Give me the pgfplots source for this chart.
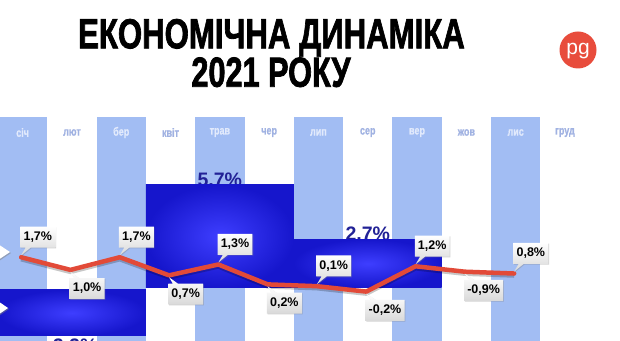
\documentclass[border=0pt]{standalone}
\usepackage{fontspec}
\setmainfont{Liberation Sans}
\newfontfamily\titlefont{Liberation Sans}[BoldFeatures={FakeBold=2}]
\newfontfamily\monthfont{Liberation Sans}[BoldFeatures={FakeBold=1}]
\usepackage{pgfplots}
\pgfplotsset{compat=1.18}
\usetikzlibrary{shapes.callouts,shadows}
\definecolor{stripe}{RGB}{162,189,243}
\definecolor{qin}{RGB}{62,62,255}
\definecolor{qout}{RGB}{22,22,204}
\definecolor{redl}{RGB}{226,74,56}
\definecolor{navy}{RGB}{34,34,150}
\definecolor{mlight}{RGB}{226,234,252}
\definecolor{mdark}{RGB}{160,178,226}
\definecolor{logo}{RGB}{232,76,60}
\newcommand\ml[1]{\scalebox{0.75}[1]{\textcolor{mlight}{#1}}}
\newcommand\md[1]{\scalebox{0.75}[1]{\textcolor{mdark}{#1}}}
\tikzset{vl/.style={rectangle callout, draw=none, top color=white, bottom color=black!15,
  drop shadow={shadow xshift=0.8pt, shadow yshift=-0.8pt, opacity=0.35},
  font=\bfseries\fontsize{12.5}{12.5}\selectfont, text=black, inner xsep=3.2pt, minimum height=21pt,
  callout pointer width=5pt}}
\begin{document}
\begin{tikzpicture}[x=1pt,y=1pt]
\fill[white] (0,0) rectangle (620,340);
\node[anchor=base] at (271.5,291.7) {\scalebox{0.742}[1]{\titlefont\bfseries\fontsize{42}{42}\selectfont ЕКОНОМІЧНА ДИНАМІКА}};
\node[anchor=base] at (271,253.3) {\scalebox{0.73}[1]{\titlefont\bfseries\fontsize{42}{42}\selectfont 2021 РОКУ}};
\fill[logo] (578,290) circle (18.5);
\node[white, anchor=base] at (578,285) {\fontsize{21}{21}\selectfont pg};
\begin{axis}[at={(-2pt,0pt)}, anchor=south west, x=49.3pt, y=18.1pt,
  xmin=0, xmax=12, ymin=-2.873, ymax=9.42, clip=false, axis on top,
  axis line style={draw=none}, major tick length=0pt, ytick=\empty,
  xtick={0.5,1.5,...,11.5},
  xticklabels={\ml{січ},\md{лют},\ml{бер},\md{квіт},\ml{трав},\md{чер},\ml{лип},\md{сер},\ml{вер},\md{жов},\ml{лис},\md{груд}},
  xticklabel pos=upper,
  xticklabel style={anchor=center, yshift=-15pt, font=\monthfont\bfseries\fontsize{12}{12}\selectfont}]
% stripes
\addplot[fill=stripe, draw=none] coordinates {(0,-3) (1,-3) (1,9.42) (0,9.42)} -- cycle;
\addplot[fill=stripe, draw=none] coordinates {(2,-3) (3,-3) (3,9.42) (2,9.42)} -- cycle;
\addplot[fill=stripe, draw=none] coordinates {(4,-3) (5,-3) (5,9.42) (4,9.42)} -- cycle;
\addplot[fill=stripe, draw=none] coordinates {(6,-3) (7,-3) (7,9.42) (6,9.42)} -- cycle;
\addplot[fill=stripe, draw=none] coordinates {(8,-3) (9,-3) (9,9.42) (8,9.42)} -- cycle;
\addplot[fill=stripe, draw=none] coordinates {(10,-3) (11,-3) (11,9.42) (10,9.42)} -- cycle;
% quarterly bars
\node[anchor=base, text=navy, font=\bfseries\fontsize{19.5}{19.5}\selectfont] at (axis cs:4.5,5.6) {5,7\%};
\node[anchor=base, text=navy, font=\bfseries\fontsize{19.5}{19.5}\selectfont] at (axis cs:7.5,2.6) {2,7\%};
\node[anchor=north, inner sep=0pt, text=navy, font=\bfseries\fontsize{19.5}{19.5}\selectfont] at (axis cs:1.5,-2.82) {-2,2\%};
\addplot[draw=none, inner color=qin, outer color=qout] coordinates {(0,-0.1) (3,-0.1) (3,-2.65) (0,-2.65)} -- cycle;
\addplot[draw=none, inner color=qin, outer color=qout] coordinates {(3,0) (6,0) (6,5.7) (3,5.7)} -- cycle;
\addplot[draw=none, inner color=qin, outer color=qout] coordinates {(6,0) (9,0) (9,2.7) (6,2.7)} -- cycle;
% monthly line
\addplot[draw=black, opacity=0.22, line width=5.5pt, line join=round, transform canvas={yshift=-1.5pt}] coordinates {(0.47,1.7) (1.47,1.0) (2.47,1.7) (3.47,0.7) (4.47,1.3) (5.47,0.2) (6.47,0.1) (7.47,-0.2) (8.47,1.2) (9.47,0.9) (10.47,0.8)};
\addplot[draw=redl, line width=4.5pt, line join=round, line cap=round] coordinates {(0.47,1.7) (1.47,1.0) (2.47,1.7) (3.47,0.7) (4.47,1.3) (5.47,0.2) (6.47,0.1) (7.47,-0.2) (8.47,1.2) (9.47,0.9) (10.47,0.8)};
% value labels
\node[vl, anchor=south west, callout absolute pointer={([yshift=2pt]axis cs:0.47,1.7)}] at ([xshift=-1pt,yshift=9.5pt]axis cs:0.47,1.7) {1,7\%};
\node[vl, anchor=north west, callout absolute pointer={([yshift=-2pt]axis cs:1.47,1.0)}] at ([xshift=-1pt,yshift=-8pt]axis cs:1.47,1.0) {1,0\%};
\node[vl, anchor=south west, callout absolute pointer={([yshift=2pt]axis cs:2.47,1.7)}] at ([xshift=-1pt,yshift=9.5pt]axis cs:2.47,1.7) {1,7\%};
\node[vl, anchor=north west, callout absolute pointer={([yshift=-2pt]axis cs:3.47,0.7)}] at ([xshift=-1pt,yshift=-8pt]axis cs:3.47,0.7) {0,7\%};
\node[vl, anchor=south west, callout absolute pointer={([yshift=2pt]axis cs:4.47,1.3)}] at ([xshift=-1pt,yshift=9.5pt]axis cs:4.47,1.3) {1,3\%};
\node[vl, anchor=north west, callout absolute pointer={([yshift=-2pt]axis cs:5.47,0.2)}] at ([xshift=-1pt,yshift=-8pt]axis cs:5.47,0.2) {0,2\%};
\node[vl, anchor=south west, callout absolute pointer={([yshift=2pt]axis cs:6.47,0.1)}] at ([xshift=-1pt,yshift=9.5pt]axis cs:6.47,0.1) {0,1\%};
\node[vl, anchor=north west, callout absolute pointer={([yshift=-2pt]axis cs:7.47,-0.2)}] at ([xshift=-1pt,yshift=-8pt]axis cs:7.47,-0.2) {-0,2\%};
\node[vl, anchor=south west, callout absolute pointer={([yshift=2pt]axis cs:8.47,1.2)}] at ([xshift=-1pt,yshift=9.5pt]axis cs:8.47,1.2) {1,2\%};
\node[vl, anchor=north west, callout absolute pointer={([yshift=-2pt]axis cs:9.47,0.9)}] at ([xshift=-1pt,yshift=-8pt]axis cs:9.47,0.9) {-0,9\%};
\node[vl, anchor=south west, callout absolute pointer={([yshift=2pt]axis cs:10.47,0.8)}] at ([xshift=-1pt,yshift=9.5pt]axis cs:10.47,0.8) {0,8\%};
\end{axis}
% left arrow decorations
\fill[white, drop shadow={shadow xshift=1pt, shadow yshift=-1pt, opacity=0.5}] (-8,100) -- (10,88) -- (-8,76) -- cycle;
\fill[white, drop shadow={shadow xshift=1pt, shadow yshift=-1pt, opacity=0.5}] (-8,43) -- (8,32) -- (-8,21) -- cycle;
\pgfresetboundingbox
\path[use as bounding box] (0,0) rectangle (620,340);
\end{tikzpicture}
\end{document}
